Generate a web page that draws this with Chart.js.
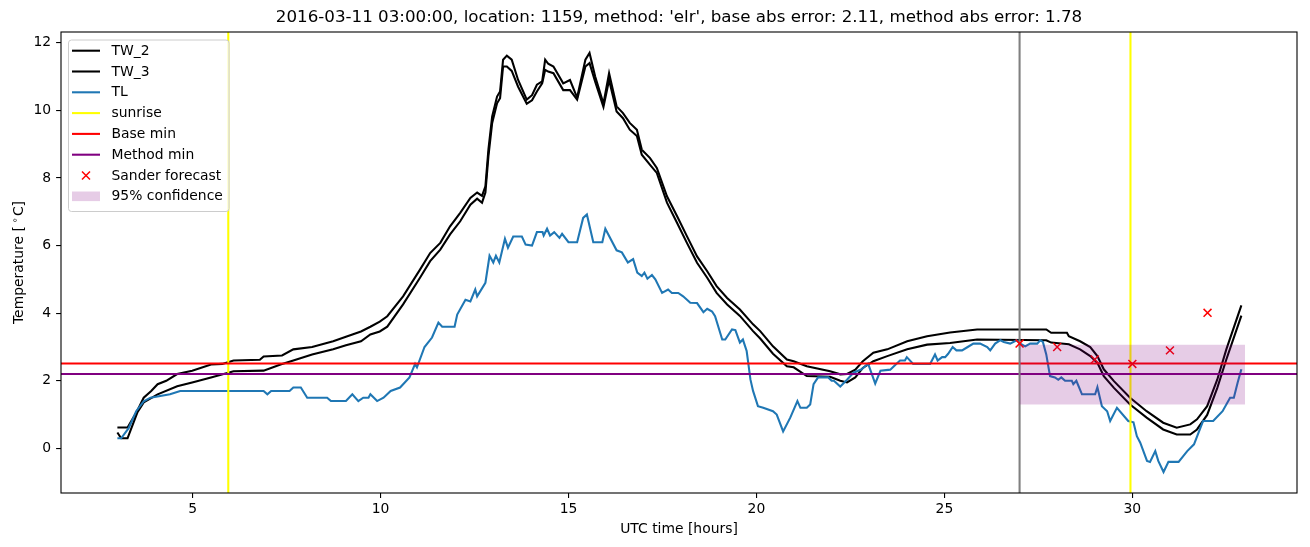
<!DOCTYPE html>
<html>
<head>
<meta charset="utf-8">
<script src="https://cdn.jsdelivr.net/npm/chart.js@4.4.1/dist/chart.umd.min.js"></script>
<style>
  html, body { margin: 0; padding: 0; background: #fff; }
  canvas { display: block; }
</style>
</head>
<body>
<canvas id="chart" width="1310" height="547"></canvas>
<script>
const TITLE   = "2016-03-11 03:00:00, location: 1159, method: 'elr', base abs error: 2.11, method abs error: 1.78";
const X_LABEL = "UTC time [hours]";
const FONT    = "'DejaVu Sans', 'Liberation Sans', sans-serif";

const X_TICKS = [5, 10, 15, 20, 25, 30];
const Y_TICKS = [0, 2, 4, 6, 8, 10, 12];

const TW2_HOURS = [3.0, 3.27, 3.5, 3.7, 3.9, 4.07, 4.3, 4.59, 4.99, 5.49, 5.79, 6.09, 6.79, 6.89, 7.38, 7.68, 8.18, 8.74, 9.08, 9.48,
  9.73, 9.98, 10.18, 10.6, 11.05, 11.32, 11.59, 11.85, 12.12, 12.39, 12.57, 12.7, 12.79, 12.87, 12.97, 13.1, 13.18, 13.26, 13.36, 13.49,
  13.66, 13.89, 14.03, 14.16, 14.3, 14.38, 14.46, 14.6, 14.86, 15.04, 15.23, 15.45, 15.56, 15.71, 15.93, 16.08, 16.28, 16.45, 16.63, 16.82,
  16.95, 17.17, 17.35, 17.62, 17.89, 18.15, 18.42, 18.69, 18.94, 19.22, 19.56, 19.91, 20.1, 20.44, 20.81, 20.99, 21.34, 21.96, 22.23, 22.41,
  22.63, 22.83, 23.11, 23.48, 24.01, 24.54, 25.15, 25.87, 27.71, 27.84, 28.26, 28.31, 28.61, 28.88, 29.07, 29.24, 29.51, 29.94, 30.38, 30.82,
  31.18, 31.54, 31.72, 31.99, 32.26, 32.5, 32.9];
const TW2 = [0.62, 0.62, 1.05, 1.5, 1.7, 1.9, 2.0, 2.2, 2.3, 2.48, 2.5, 2.6, 2.62, 2.72, 2.75, 2.93, 3.0, 3.17, 3.3, 3.46,
  3.6, 3.75, 3.91, 4.5, 5.29, 5.78, 6.08, 6.57, 6.97, 7.41, 7.57, 7.47, 7.75, 8.84, 9.82, 10.41, 10.56, 11.5, 11.62, 11.5,
  10.9, 10.32, 10.45, 10.76, 10.86, 11.5, 11.38, 11.3, 10.8, 10.9, 10.38, 11.5, 11.7, 11.0, 10.2, 11.1, 10.12, 9.92, 9.63, 9.43,
  8.84, 8.59, 8.3, 7.46, 6.87, 6.28, 5.68, 5.24, 4.8, 4.45, 4.11, 3.67, 3.47, 3.02, 2.63, 2.58, 2.43, 2.28, 2.19, 2.2,
  2.33, 2.58, 2.83, 2.93, 3.17, 3.32, 3.43, 3.52, 3.52, 3.42, 3.42, 3.32, 3.17, 3.0, 2.73, 2.34, 1.99, 1.5, 1.1, 0.76,
  0.61, 0.71, 0.86, 1.25, 2.04, 2.93, 4.23];

const TW3_HOURS = [3.0, 3.1, 3.27, 3.53, 3.7, 4.07, 4.59, 4.99, 5.49, 6.09, 6.89, 7.34, 7.68, 8.18, 8.74, 9.08, 9.48, 9.73, 9.98, 10.18,
  10.6, 11.05, 11.32, 11.59, 11.85, 12.12, 12.39, 12.57, 12.7, 12.79, 12.87, 12.97, 13.1, 13.18, 13.26, 13.36, 13.49, 13.66, 13.89, 14.03,
  14.16, 14.3, 14.38, 14.46, 14.6, 14.86, 15.04, 15.23, 15.45, 15.56, 15.71, 15.93, 16.08, 16.28, 16.45, 16.63, 16.82, 16.95, 17.17, 17.35,
  17.62, 17.89, 18.15, 18.42, 18.69, 18.94, 19.22, 19.56, 19.91, 20.1, 20.44, 20.81, 20.99, 21.34, 21.96, 22.23, 22.41, 22.63, 22.83, 23.11,
  23.48, 24.01, 24.54, 25.15, 25.87, 27.71, 27.84, 28.31, 28.61, 28.88, 29.07, 29.24, 29.51, 29.94, 30.38, 30.82, 31.18, 31.54, 31.72, 31.99,
  32.26, 32.5, 32.9];
const TW3 = [0.47, 0.3, 0.3, 1.06, 1.36, 1.6, 1.84, 1.95, 2.1, 2.28, 2.3, 2.48, 2.6, 2.78, 2.93, 3.05, 3.17, 3.37, 3.46, 3.6,
  4.26, 5.05, 5.54, 5.88, 6.33, 6.72, 7.21, 7.39, 7.27, 7.57, 8.64, 9.63, 10.21, 10.36, 11.3, 11.3, 11.17, 10.7, 10.2, 10.3,
  10.56, 10.8, 11.2, 11.15, 11.1, 10.6, 10.6, 10.32, 11.3, 11.4, 10.85, 10.1, 10.9, 9.97, 9.77, 9.43, 9.24, 8.69, 8.39, 8.15,
  7.27, 6.67, 6.08, 5.49, 5.05, 4.6, 4.26, 3.92, 3.47, 3.25, 2.8, 2.43, 2.4, 2.14, 2.12, 2.0, 1.95, 2.1, 2.38, 2.58,
  2.73, 2.93, 3.07, 3.12, 3.22, 3.2, 3.13, 3.08, 2.93, 2.73, 2.53, 2.14, 1.79, 1.3, 0.91, 0.56, 0.41, 0.41, 0.56, 0.99,
  1.79, 2.63, 3.93];

const TL_HOURS = [3.0, 3.1, 3.3, 3.5, 3.7, 3.88, 4.4, 4.67, 6.89, 6.99, 7.09, 7.58, 7.68, 7.88, 8.05, 8.58, 8.68, 9.08, 9.25, 9.41,
  9.54, 9.68, 9.73, 9.91, 10.08, 10.27, 10.52, 10.77, 10.92, 10.97, 11.17, 11.37, 11.54, 11.64, 11.97, 12.04, 12.26, 12.39, 12.52, 12.57,
  12.79, 12.9, 13.0, 13.07, 13.16, 13.31, 13.39, 13.53, 13.76, 13.86, 14.03, 14.16, 14.31, 14.34, 14.43, 14.51, 14.62, 14.76, 14.83, 15.0,
  15.23, 15.39, 15.49, 15.66, 15.9, 15.98, 16.28, 16.42, 16.58, 16.72, 16.83, 16.95, 17.02, 17.1, 17.22, 17.31, 17.49, 17.65, 17.75, 17.92,
  18.05, 18.24, 18.42, 18.59, 18.69, 18.82, 18.9, 19.09, 19.17, 19.35, 19.44, 19.56, 19.64, 19.74, 19.84, 19.91, 20.04, 20.18, 20.44, 20.54,
  20.71, 20.9, 21.09, 21.17, 21.34, 21.43, 21.52, 21.64, 21.91, 22.0, 22.06, 22.23, 22.41, 22.58, 22.8, 22.97, 23.16, 23.3, 23.56, 23.72,
  23.82, 23.95, 24.0, 24.17, 24.62, 24.75, 24.82, 24.94, 25.02, 25.1, 25.22, 25.32, 25.47, 25.62, 25.77, 25.95, 26.14, 26.22, 26.35, 26.49,
  26.58, 26.75, 26.92, 27.02, 27.15, 27.28, 27.47, 27.55, 27.62, 27.71, 27.81, 27.94, 28.03, 28.11, 28.21, 28.39, 28.43, 28.51, 28.66, 29.01,
  29.07, 29.19, 29.33, 29.41, 29.59, 29.89, 30.03, 30.12, 30.21, 30.39, 30.47, 30.61, 30.69, 30.83, 30.96, 31.23, 31.46, 31.64, 31.88, 32.15,
  32.4, 32.6, 32.7, 32.8, 32.9];
const TL = [0.3, 0.3, 0.6, 1.1, 1.39, 1.5, 1.6, 1.7, 1.7, 1.6, 1.7, 1.7, 1.8, 1.8, 1.5, 1.5, 1.4, 1.4, 1.6, 1.4,
  1.5, 1.5, 1.6, 1.4, 1.5, 1.7, 1.8, 2.1, 2.5, 2.4, 3.0, 3.28, 3.72, 3.6, 3.6, 3.96, 4.4, 4.35, 4.7, 4.5,
  4.9, 5.7, 5.5, 5.7, 5.5, 6.2, 5.94, 6.27, 6.27, 6.03, 6.0, 6.4, 6.4, 6.3, 6.5, 6.3, 6.4, 6.23, 6.35, 6.1,
  6.1, 6.82, 6.92, 6.1, 6.1, 6.5, 5.86, 5.8, 5.5, 5.6, 5.2, 5.1, 5.2, 5.02, 5.13, 5.0, 4.6, 4.7, 4.6, 4.6,
  4.5, 4.31, 4.3, 4.03, 4.13, 4.05, 3.91, 3.22, 3.22, 3.52, 3.5, 3.13, 3.22, 2.88, 2.04, 1.7, 1.25, 1.2, 1.1, 1.0,
  0.5, 0.91, 1.4, 1.2, 1.2, 1.3, 1.9, 2.1, 2.1, 2.0, 2.0, 1.83, 2.03, 2.24, 2.34, 2.51, 1.92, 2.3, 2.33, 2.5,
  2.6, 2.6, 2.7, 2.5, 2.5, 2.78, 2.6, 2.7, 2.7, 2.8, 3.0, 2.9, 2.9, 3.0, 3.1, 3.1, 3.0, 2.9, 3.1, 3.2,
  3.15, 3.1, 3.2, 3.1, 3.02, 3.1, 3.1, 3.2, 3.15, 2.78, 2.14, 2.1, 2.03, 2.1, 2.0, 2.0, 1.9, 2.0, 1.6, 1.6,
  1.81, 1.25, 1.1, 0.81, 1.2, 0.81, 0.77, 0.36, 0.17, -0.37, -0.4, -0.08, -0.37, -0.7, -0.4, -0.4, -0.08, 0.12, 0.81, 0.81,
  1.1, 1.5, 1.5, 1.94, 2.34];

const SUNRISE_HOURS  = [5.95, 29.95];
const FORECAST_TIME  = 27;
const BASE_MIN       = 2.51;
const METHOD_MIN     = 2.2;
const SANDER_HOURS   = [27, 28, 29, 30, 31, 32];
const SANDER         = [3.1, 3.0, 2.63, 2.5, 2.9, 4.01];
const CONF_HOURS     = [27, 33];
const CONF_LOW       = 1.3;
const CONF_HIGH      = 3.07;

const X_MIN = 1.5, X_MAX = 34.38;
const Y_MIN = -1.32, Y_MAX = 12.32;

const zip = (xs, ys) => xs.map((x, i) => ({ x, y: ys[i] }));
const vline = x => [{ x, y: Y_MIN - 1 }, { x, y: Y_MAX + 1 }];
const hline = y => [{ x: X_MIN - 1, y }, { x: X_MAX + 1, y }];

const LW = 2.08;

const lineDs = (label, data, color, legend = true) => ({
  label, data, borderColor: color, backgroundColor: color,
  borderWidth: LW, pointRadius: 0, tension: 0, fill: false, legend,
});

const datasets = [
  lineDs("TW_2", zip(TW2_HOURS, TW2), "#000000"),
  lineDs("TW_3", zip(TW3_HOURS, TW3), "#000000"),
  lineDs("TL", zip(TL_HOURS, TL), "#1f77b4"),
  lineDs("sunrise", vline(SUNRISE_HOURS[0]), "#ffff00"),
  lineDs("sunrise", vline(SUNRISE_HOURS[1]), "#ffff00", false),
  lineDs("Base min", hline(BASE_MIN), "#ff0000"),
  lineDs("Method min", hline(METHOD_MIN), "#800080"),
  lineDs("forecast", vline(FORECAST_TIME), "#808080", false),
  {
    label: "Sander forecast", data: zip(SANDER_HOURS, SANDER), showLine: false,
    pointStyle: "crossRot", pointRadius: 5.6, borderColor: "#ff0000", pointBorderWidth: 1.5,
    backgroundColor: "#ff0000", legend: true, marker: true,
  },
  {
    label: "95% confidence", data: zip(CONF_HOURS, CONF_HOURS.map(() => CONF_HIGH)),
    borderWidth: 0, pointRadius: 0, borderColor: "rgba(0,0,0,0)",
    backgroundColor: "rgba(128,0,128,0.2)", fill: { value: CONF_LOW }, legend: true, patch: true,
  },
];
// later datasets drawn on top, like matplotlib
datasets.forEach((d, i) => { d.order = datasets.length - i; });

const framePlugin = {
  id: "frame",
  afterDraw(chart) {
    const { ctx, chartArea: a } = chart;
    ctx.save();

    // axes frame
    ctx.strokeStyle = "#000";
    ctx.lineWidth = 1.1;
    ctx.strokeRect(a.left, a.top, a.right - a.left, a.bottom - a.top);

    // title + axis labels
    ctx.fillStyle = "#000";
    ctx.textAlign = "center";
    ctx.textBaseline = "middle";
    ctx.font = `16.7px ${FONT}`;
    ctx.fillText(TITLE, (a.left + a.right) / 2, 18);
    ctx.font = `13.9px ${FONT}`;
    ctx.fillText(X_LABEL, (a.left + a.right) / 2, 529);

    ctx.translate(19, (a.top + a.bottom) / 2);
    ctx.rotate(-Math.PI / 2);
    ctx.textAlign = "left";
    const p1 = "Temperature [", p3 = "C]";
    ctx.font = `13.9px ${FONT}`;
    const w1 = ctx.measureText(p1).width;
    ctx.font = `9.7px ${FONT}`;
    const w2 = ctx.measureText("\u2218").width + 4;
    ctx.font = `13.9px ${FONT}`;
    const w3 = ctx.measureText(p3).width;
    let x0 = -(w1 + w2 + w3) / 2;
    ctx.fillText(p1, x0, 0);
    ctx.font = `9.7px ${FONT}`;
    ctx.fillText("\u2218", x0 + w1 + 3, -4);
    ctx.font = `13.9px ${FONT}`;
    ctx.fillText(p3, x0 + w1 + w2, 0);
    ctx.restore();

    // legend
    ctx.save();
    const bx = 68.5, by = 40, bw = 160.5, bh = 171.5, r = 3;
    ctx.beginPath();
    ctx.roundRect(bx, by, bw, bh, r);
    ctx.fillStyle = "rgba(255,255,255,0.8)";
    ctx.fill();
    ctx.strokeStyle = "#cccccc";
    ctx.lineWidth = 1;
    ctx.stroke();

    const entries = chart.data.datasets.filter(d => d.legend);
    ctx.font = `13.9px ${FONT}`;
    ctx.textBaseline = "middle";
    entries.forEach((d, i) => {
      const cy = 50.7 + i * 20.8;
      if (d.patch) {
        ctx.fillStyle = d.backgroundColor;
        ctx.fillRect(72, cy - 4.8, 28, 9.6);
      } else if (d.marker) {
        ctx.strokeStyle = d.borderColor;
        ctx.lineWidth = 1.5;
        ctx.beginPath();
        ctx.moveTo(82, cy - 4); ctx.lineTo(90, cy + 4);
        ctx.moveTo(82, cy + 4); ctx.lineTo(90, cy - 4);
        ctx.stroke();
      } else {
        ctx.strokeStyle = d.borderColor;
        ctx.lineWidth = LW;
        ctx.beginPath();
        ctx.moveTo(72, cy); ctx.lineTo(100, cy);
        ctx.stroke();
      }
      ctx.fillStyle = "#000";
      ctx.textAlign = "left";
      ctx.fillText(d.label, 111.5, cy + 0.5);
    });
    ctx.restore();
  },
};

const tickFont = { family: FONT, size: 13.9 };

new Chart(document.getElementById("chart"), {
  type: "line",
  data: { datasets },
  options: {
    responsive: false,
    animation: false,
    devicePixelRatio: 1,
    events: [],
    layout: { padding: { left: 0, right: 13, top: 32, bottom: 0 } },
    plugins: { legend: { display: false }, title: { display: false }, tooltip: { enabled: false } },
    scales: {
      x: {
        type: "linear", min: X_MIN, max: X_MAX,
        afterBuildTicks: s => { s.ticks = X_TICKS.map(v => ({ value: v })); },
        afterFit: s => { s.height = 54; },
        grid: { drawOnChartArea: false, drawTicks: true, tickLength: 4.9, color: "#000", lineWidth: 1.1 },
        border: { display: false },
        ticks: { color: "#000", font: tickFont, padding: 3, maxRotation: 0 },
      },
      y: {
        type: "linear", min: Y_MIN, max: Y_MAX,
        afterBuildTicks: s => { s.ticks = Y_TICKS.map(v => ({ value: v })); },
        afterFit: s => { s.width = 61; },
        grid: { drawOnChartArea: false, drawTicks: true, tickLength: 4.9, color: "#000", lineWidth: 1.1 },
        border: { display: false },
        ticks: { color: "#000", font: tickFont, padding: 4.9 },
      },
    },
  },
  plugins: [framePlugin],
});
</script>
</body>
</html>
